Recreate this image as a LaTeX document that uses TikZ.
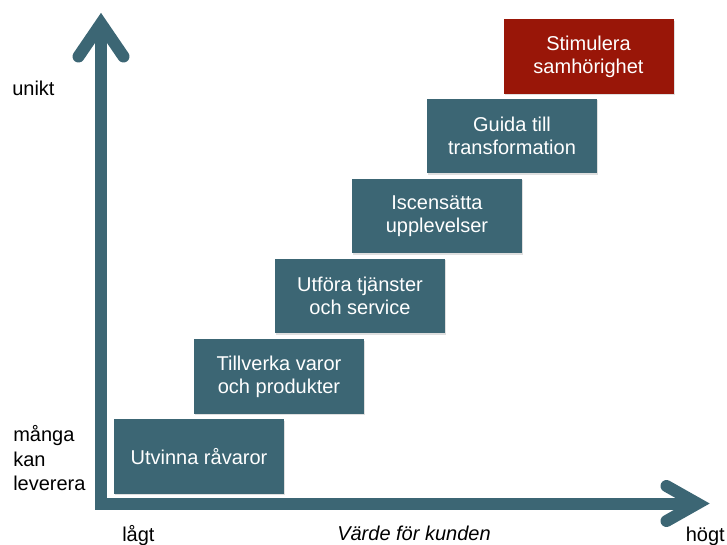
\documentclass[tikz,border=0pt]{standalone}
\usepackage{fontspec}
\setmainfont{Liberation Sans}
\usepackage{tikz}
\usetikzlibrary{shadows}
\definecolor{stegfarg}{RGB}{60,102,116}
\definecolor{toppfarg}{RGB}{153,22,8}

\begin{document}
\begin{tikzpicture}[x=0.75pt,y=-0.75pt,
	steg/.style={fill=stegfarg,text=white,minimum width=127.5pt,minimum height=56pt,inner sep=0pt,align=center,font=\fontsize{15}{17.3}\selectfont,drop shadow={shadow xshift=1pt,shadow yshift=-1pt,opacity=0.25}},
	axel/.style={draw=stegfarg,line width=9pt,line cap=round,line join=miter},
	etikett/.style={inner sep=0pt,font=\fontsize{15}{18.4}\selectfont}]
	\useasboundingbox (0,0) rectangle (727,544);
	
	\coordinate (origo) at (101,503.5);
	\coordinate (ytopp) at (101,23.5);
	\coordinate (xtopp) at (697.5,503.5);
	\draw[axel,line cap=butt] (ytopp) -- (origo) -- (xtopp);
	\draw[axel] (78.5,56.5) -- (ytopp) -- (123.5,56.5);
	\draw[axel] (666.5,486) -- (xtopp) -- (666.5,521);
	
	\node[steg] (utvinna) at (199,456.5) {Utvinna råvaror};
	\node[steg] (tillverka) at (279,376.5) {Tillverka varor\\och produkter};
	\node[steg] (utfora) at (360,296) {Utföra tjänster\\och service};
	\node[steg] (iscensatta) at (437,216) {Iscensätta\\upplevelser};
	\node[steg] (guida) at (512,136) {Guida till\\transformation};
	\node[steg,fill=toppfarg] (stimulera) at (588.5,56.5) {Stimulera\\samhörighet};
	
	\node[etikett,anchor=base west] (unikt) at (12,95) {unikt};
	\node[etikett,anchor=base west,align=left] (manga) at (13,490.7) {många\\kan\\leverera};
	\node[etikett,anchor=base west] (lagt) at (122,541) {lågt};
	\node[etikett,anchor=base] (varde) at (414,540) {\itshape Värde för kunden};
	\node[etikett,anchor=base east] (hogt) at (725,541) {högt};
\end{tikzpicture}
\end{document}
